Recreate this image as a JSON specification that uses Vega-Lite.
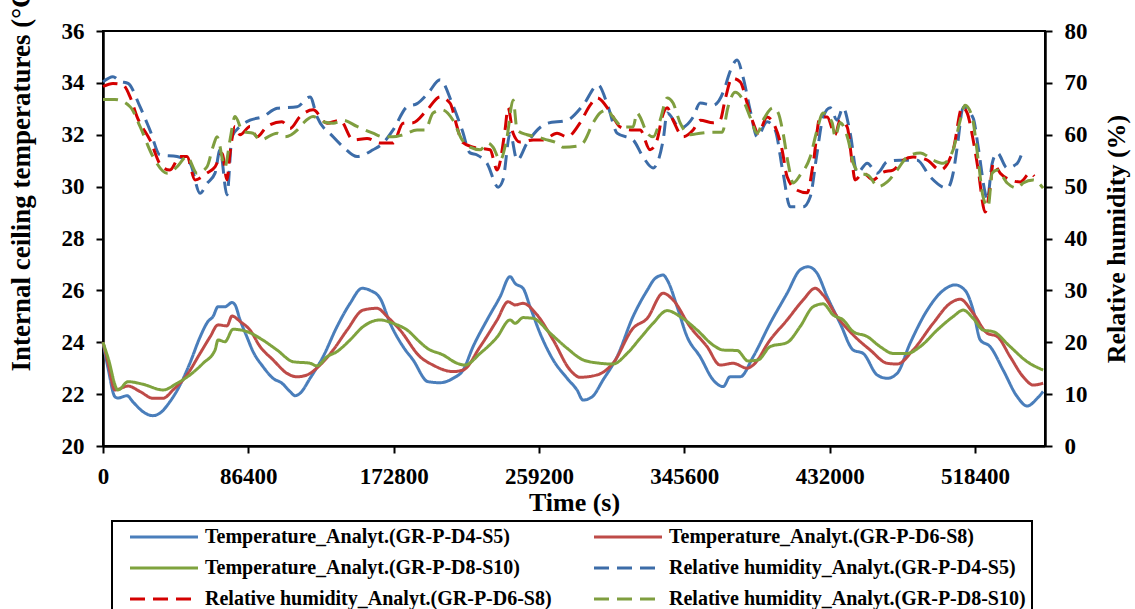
{
"$schema": "https://vega.github.io/schema/vega-lite/v6.json",
"width": 942,
"height": 415,
"autosize": {"type": "none"},
"padding": {"left": 103, "top": 31, "right": 90, "bottom": 163},
"background": "white",
"config": {
  "font": "Liberation Serif",
  "view": {"stroke": "black", "strokeWidth": 2},
  "axis": {"labelFont": "Liberation Serif", "labelFontWeight": "bold", "labelFontSize": 23, "labelColor": "black", "titleFont": "Liberation Serif", "titleFontWeight": "bold", "titleFontSize": 26, "titleColor": "black", "domainColor": "black", "domainWidth": 2.5, "tickColor": "black", "tickWidth": 2, "tickSize": 7, "grid": false, "labelPadding": 12, "labelOverlap": false},
  "legend": {"orient": "none", "legendX": 9, "legendY": 490, "columns": 2, "labelFont": "Liberation Serif", "labelFontWeight": "bold", "labelFontSize": 20, "labelColor": "black", "labelLimit": 600, "symbolType": "M-8,0H8", "symbolSize": 72.25, "symbolStrokeWidth": 3, "symbolOffset": 36, "labelOffset": 31, "padding": 6, "rowPadding": 11, "columnPadding": 30, "strokeColor": "black", "strokeWidth": 2}
},
"datasets": {
"d": [
{"s":"TA","t":0,"v":24.0},{"s":"TA","t":3000,"v":23.0},{"s":"TA","t":7100,"v":21.9},{"s":"TA","t":8900,"v":21.85},{"s":"TA","t":14300,"v":21.94},{"s":"TA","t":17800,"v":21.7},{"s":"TA","t":23800,"v":21.32},{"s":"TA","t":29700,"v":21.17},{"s":"TA","t":33900,"v":21.27},{"s":"TA","t":39800,"v":21.71},{"s":"TA","t":45800,"v":22.35},{"s":"TA","t":51700,"v":23.2},{"s":"TA","t":57700,"v":24.2},{"s":"TA","t":62400,"v":24.8},{"s":"TA","t":65400,"v":24.99},{"s":"TA","t":68400,"v":25.37},{"s":"TA","t":72500,"v":25.37},{"s":"TA","t":76700,"v":25.53},{"s":"TA","t":78500,"v":25.44},{"s":"TA","t":81500,"v":24.86},{"s":"TA","t":85600,"v":24.2},{"s":"TA","t":89200,"v":23.64},{"s":"TA","t":95100,"v":23.06},{"s":"TA","t":101100,"v":22.61},{"s":"TA","t":106400,"v":22.42},{"s":"TA","t":111200,"v":22.1},{"s":"TA","t":114200,"v":21.94},{"s":"TA","t":117100,"v":22.03},{"s":"TA","t":123100,"v":22.61},{"s":"TA","t":130800,"v":23.44},{"s":"TA","t":139100,"v":24.6},{"s":"TA","t":146900,"v":25.5},{"s":"TA","t":154000,"v":26.08},{"s":"TA","t":158800,"v":26.0},{"s":"TA","t":164700,"v":25.7},{"s":"TA","t":170700,"v":24.73},{"s":"TA","t":178400,"v":23.83},{"s":"TA","t":184300,"v":23.32},{"s":"TA","t":193200,"v":22.48},{"s":"TA","t":200400,"v":22.44},{"s":"TA","t":208100,"v":22.61},{"s":"TA","t":214100,"v":22.93},{"s":"TA","t":220000,"v":23.83},{"s":"TA","t":228300,"v":24.86},{"s":"TA","t":236100,"v":25.76},{"s":"TA","t":242000,"v":26.53},{"s":"TA","t":245000,"v":26.27},{"s":"TA","t":249700,"v":26.08},{"s":"TA","t":253900,"v":25.37},{"s":"TA","t":259800,"v":24.35},{"s":"TA","t":267600,"v":23.32},{"s":"TA","t":275900,"v":22.61},{"s":"TA","t":281800,"v":22.16},{"s":"TA","t":285400,"v":21.77},{"s":"TA","t":290800,"v":21.9},{"s":"TA","t":297300,"v":22.55},{"s":"TA","t":305600,"v":23.44},{"s":"TA","t":315100,"v":24.99},{"s":"TA","t":323500,"v":26.0},{"s":"TA","t":328200,"v":26.46},{"s":"TA","t":333000,"v":26.59},{"s":"TA","t":335900,"v":26.34},{"s":"TA","t":341300,"v":25.37},{"s":"TA","t":347200,"v":24.22},{"s":"TA","t":355000,"v":23.44},{"s":"TA","t":362700,"v":22.55},{"s":"TA","t":368700,"v":22.29},{"s":"TA","t":372800,"v":22.67},{"s":"TA","t":378800,"v":22.67},{"s":"TA","t":386500,"v":23.44},{"s":"TA","t":396600,"v":24.73},{"s":"TA","t":406700,"v":25.89},{"s":"TA","t":414400,"v":26.79},{"s":"TA","t":419200,"v":26.91},{"s":"TA","t":424500,"v":26.66},{"s":"TA","t":430500,"v":25.76},{"s":"TA","t":438200,"v":24.73},{"s":"TA","t":446000,"v":23.7},{"s":"TA","t":451900,"v":23.57},{"s":"TA","t":460200,"v":22.74},{"s":"TA","t":466200,"v":22.61},{"s":"TA","t":472100,"v":22.8},{"s":"TA","t":479800,"v":23.96},{"s":"TA","t":490000,"v":25.24},{"s":"TA","t":499500,"v":26.0},{"s":"TA","t":506600,"v":26.21},{"s":"TA","t":512500,"v":26.0},{"s":"TA","t":517300,"v":25.24},{"s":"TA","t":521500,"v":24.09},{"s":"TA","t":527400,"v":23.83},{"s":"TA","t":535100,"v":22.93},{"s":"TA","t":543500,"v":21.9},{"s":"TA","t":549400,"v":21.54},{"s":"TA","t":555400,"v":21.84},{"s":"TA","t":558900,"v":22.1},
{"s":"TB","t":0,"v":24.0},{"s":"TB","t":3000,"v":23.2},{"s":"TB","t":7100,"v":22.16},{"s":"TB","t":14900,"v":22.31},{"s":"TB","t":22000,"v":22.1},{"s":"TB","t":29700,"v":21.84},{"s":"TB","t":35700,"v":21.84},{"s":"TB","t":41600,"v":22.16},{"s":"TB","t":49900,"v":22.74},{"s":"TB","t":57700,"v":23.57},{"s":"TB","t":63600,"v":24.2},{"s":"TB","t":68400,"v":24.67},{"s":"TB","t":73700,"v":24.63},{"s":"TB","t":76700,"v":25.01},{"s":"TB","t":81500,"v":24.8},{"s":"TB","t":87400,"v":24.47},{"s":"TB","t":93400,"v":23.83},{"s":"TB","t":101100,"v":23.32},{"s":"TB","t":109400,"v":22.8},{"s":"TB","t":115400,"v":22.67},{"s":"TB","t":121300,"v":22.74},{"s":"TB","t":129000,"v":23.12},{"s":"TB","t":136800,"v":23.7},{"s":"TB","t":145100,"v":24.47},{"s":"TB","t":154600,"v":25.24},{"s":"TB","t":162900,"v":25.31},{"s":"TB","t":168900,"v":24.99},{"s":"TB","t":176600,"v":24.47},{"s":"TB","t":188500,"v":23.44},{"s":"TB","t":196200,"v":23.12},{"s":"TB","t":208100,"v":22.87},{"s":"TB","t":214100,"v":22.93},{"s":"TB","t":224200,"v":23.83},{"s":"TB","t":234300,"v":24.86},{"s":"TB","t":240800,"v":25.56},{"s":"TB","t":245000,"v":25.44},{"s":"TB","t":249700,"v":25.5},{"s":"TB","t":258100,"v":25.05},{"s":"TB","t":267600,"v":24.09},{"s":"TB","t":277700,"v":22.93},{"s":"TB","t":283600,"v":22.65},{"s":"TB","t":293700,"v":22.74},{"s":"TB","t":303200,"v":23.19},{"s":"TB","t":315100,"v":24.54},{"s":"TB","t":323500,"v":24.92},{"s":"TB","t":333000,"v":25.89},{"s":"TB","t":338900,"v":25.63},{"s":"TB","t":349000,"v":24.6},{"s":"TB","t":359100,"v":23.83},{"s":"TB","t":366900,"v":23.12},{"s":"TB","t":374600,"v":23.19},{"s":"TB","t":382900,"v":23.0},{"s":"TB","t":386500,"v":23.12},{"s":"TB","t":396600,"v":24.09},{"s":"TB","t":406700,"v":24.86},{"s":"TB","t":416200,"v":25.63},{"s":"TB","t":423400,"v":26.08},{"s":"TB","t":428100,"v":25.82},{"s":"TB","t":436400,"v":24.99},{"s":"TB","t":446000,"v":24.28},{"s":"TB","t":456100,"v":23.7},{"s":"TB","t":466200,"v":23.19},{"s":"TB","t":472100,"v":23.16},{"s":"TB","t":481600,"v":23.7},{"s":"TB","t":493500,"v":24.73},{"s":"TB","t":503600,"v":25.5},{"s":"TB","t":509600,"v":25.66},{"s":"TB","t":517300,"v":25.12},{"s":"TB","t":525600,"v":24.35},{"s":"TB","t":531600,"v":24.22},{"s":"TB","t":539300,"v":23.44},{"s":"TB","t":547000,"v":22.67},{"s":"TB","t":553000,"v":22.35},{"s":"TB","t":558900,"v":22.42},
{"s":"TC","t":0,"v":24.0},{"s":"TC","t":3000,"v":23.4},{"s":"TC","t":8900,"v":22.16},{"s":"TC","t":14900,"v":22.48},{"s":"TC","t":23800,"v":22.38},{"s":"TC","t":35700,"v":22.16},{"s":"TC","t":44000,"v":22.42},{"s":"TC","t":51700,"v":22.74},{"s":"TC","t":59500,"v":23.19},{"s":"TC","t":66600,"v":23.7},{"s":"TC","t":68400,"v":24.09},{"s":"TC","t":72500,"v":24.02},{"s":"TC","t":77300,"v":24.5},{"s":"TC","t":85600,"v":24.41},{"s":"TC","t":93400,"v":24.15},{"s":"TC","t":103500,"v":23.7},{"s":"TC","t":113000,"v":23.25},{"s":"TC","t":123100,"v":23.19},{"s":"TC","t":127200,"v":23.09},{"s":"TC","t":133200,"v":23.44},{"s":"TC","t":139100,"v":23.64},{"s":"TC","t":146900,"v":24.09},{"s":"TC","t":154600,"v":24.6},{"s":"TC","t":164700,"v":24.86},{"s":"TC","t":172400,"v":24.73},{"s":"TC","t":180800,"v":24.47},{"s":"TC","t":188500,"v":24.0},{"s":"TC","t":192700,"v":23.77},{"s":"TC","t":202200,"v":23.51},{"s":"TC","t":210500,"v":23.19},{"s":"TC","t":215200,"v":23.12},{"s":"TC","t":224200,"v":23.57},{"s":"TC","t":234300,"v":24.2},{"s":"TC","t":242000,"v":24.86},{"s":"TC","t":245000,"v":24.73},{"s":"TC","t":249700,"v":24.95},{"s":"TC","t":255700,"v":24.92},{"s":"TC","t":265800,"v":24.35},{"s":"TC","t":275900,"v":23.77},{"s":"TC","t":285400,"v":23.32},{"s":"TC","t":295500,"v":23.19},{"s":"TC","t":303200,"v":23.16},{"s":"TC","t":311600,"v":23.57},{"s":"TC","t":319300,"v":24.15},{"s":"TC","t":327000,"v":24.73},{"s":"TC","t":335400,"v":25.22},{"s":"TC","t":343100,"v":24.99},{"s":"TC","t":353200,"v":24.47},{"s":"TC","t":362700,"v":23.89},{"s":"TC","t":368700,"v":23.7},{"s":"TC","t":377000,"v":23.68},{"s":"TC","t":383500,"v":23.28},{"s":"TC","t":389500,"v":23.32},{"s":"TC","t":396600,"v":23.83},{"s":"TC","t":406700,"v":23.99},{"s":"TC","t":414400,"v":24.6},{"s":"TC","t":422200,"v":25.37},{"s":"TC","t":428100,"v":25.48},{"s":"TC","t":434100,"v":25.05},{"s":"TC","t":440000,"v":24.86},{"s":"TC","t":446000,"v":24.41},{"s":"TC","t":454300,"v":24.22},{"s":"TC","t":462000,"v":23.83},{"s":"TC","t":469700,"v":23.57},{"s":"TC","t":478100,"v":23.57},{"s":"TC","t":485800,"v":23.83},{"s":"TC","t":495900,"v":24.47},{"s":"TC","t":505400,"v":24.99},{"s":"TC","t":511400,"v":25.24},{"s":"TC","t":517300,"v":24.92},{"s":"TC","t":523200,"v":24.47},{"s":"TC","t":529200,"v":24.41},{"s":"TC","t":539300,"v":23.83},{"s":"TC","t":549400,"v":23.25},{"s":"TC","t":558900,"v":22.93},
{"s":"HA","t":0,"v":70.2},{"s":"HA","t":5900,"v":71.2},{"s":"HA","t":10100,"v":70.3},{"s":"HA","t":14900,"v":69.9},{"s":"HA","t":22000,"v":65.4},{"s":"HA","t":27900,"v":60.9},{"s":"HA","t":33900,"v":56.1},{"s":"HA","t":44000,"v":55.8},{"s":"HA","t":51700,"v":54.5},{"s":"HA","t":57700,"v":48.7},{"s":"HA","t":61800,"v":50.6},{"s":"HA","t":66600,"v":52.6},{"s":"HA","t":69600,"v":57.1},{"s":"HA","t":73700,"v":48.4},{"s":"HA","t":76700,"v":59.6},{"s":"HA","t":81500,"v":61.6},{"s":"HA","t":87400,"v":62.8},{"s":"HA","t":95100,"v":63.5},{"s":"HA","t":103500,"v":65.1},{"s":"HA","t":115400,"v":65.4},{"s":"HA","t":123100,"v":67.3},{"s":"HA","t":127200,"v":63.5},{"s":"HA","t":136800,"v":59.6},{"s":"HA","t":142700,"v":57.7},{"s":"HA","t":151000,"v":55.8},{"s":"HA","t":160500,"v":57.1},{"s":"HA","t":166500,"v":58.4},{"s":"HA","t":172400,"v":60.9},{"s":"HA","t":180800,"v":65.4},{"s":"HA","t":186700,"v":66.0},{"s":"HA","t":193200,"v":68.0},{"s":"HA","t":200400,"v":70.6},{"s":"HA","t":207500,"v":66.1},{"s":"HA","t":213500,"v":60.9},{"s":"HA","t":218200,"v":56.5},{"s":"HA","t":222400,"v":56.1},{"s":"HA","t":228300,"v":54.5},{"s":"HA","t":234900,"v":49.9},{"s":"HA","t":237800,"v":51.3},{"s":"HA","t":242000,"v":60.3},{"s":"HA","t":246200,"v":55.1},{"s":"HA","t":252100,"v":58.4},{"s":"HA","t":264000,"v":62.2},{"s":"HA","t":275900,"v":62.8},{"s":"HA","t":285400,"v":65.7},{"s":"HA","t":294300,"v":69.6},{"s":"HA","t":300300,"v":65.4},{"s":"HA","t":305600,"v":60.3},{"s":"HA","t":315100,"v":59.0},{"s":"HA","t":321100,"v":55.7},{"s":"HA","t":327000,"v":53.6},{"s":"HA","t":333000,"v":59.0},{"s":"HA","t":335400,"v":64.2},{"s":"HA","t":343100,"v":61.3},{"s":"HA","t":350800,"v":63.4},{"s":"HA","t":355000,"v":66.1},{"s":"HA","t":362700,"v":65.7},{"s":"HA","t":369800,"v":69.2},{"s":"HA","t":371600,"v":71.1},{"s":"HA","t":377000,"v":74.4},{"s":"HA","t":380500,"v":71.1},{"s":"HA","t":384700,"v":64.8},{"s":"HA","t":388900,"v":59.6},{"s":"HA","t":394800,"v":62.5},{"s":"HA","t":399600,"v":60.9},{"s":"HA","t":404300,"v":52.6},{"s":"HA","t":408500,"v":46.1},{"s":"HA","t":416200,"v":46.1},{"s":"HA","t":420400,"v":48.0},{"s":"HA","t":424500,"v":56.5},{"s":"HA","t":428100,"v":63.4},{"s":"HA","t":432300,"v":65.2},{"s":"HA","t":436400,"v":62.8},{"s":"HA","t":440000,"v":65.2},{"s":"HA","t":444200,"v":60.3},{"s":"HA","t":448300,"v":52.6},{"s":"HA","t":454300,"v":54.5},{"s":"HA","t":460200,"v":52.6},{"s":"HA","t":466200,"v":54.8},{"s":"HA","t":473900,"v":55.1},{"s":"HA","t":484000,"v":55.1},{"s":"HA","t":491700,"v":51.9},{"s":"HA","t":501800,"v":49.7},{"s":"HA","t":505400,"v":52.6},{"s":"HA","t":507800,"v":57.6},{"s":"HA","t":511400,"v":65.3},{"s":"HA","t":517300,"v":63.2},{"s":"HA","t":520300,"v":57.6},{"s":"HA","t":524400,"v":48.8},{"s":"HA","t":525600,"v":47.4},{"s":"HA","t":528600,"v":54.5},{"s":"HA","t":531600,"v":56.5},{"s":"HA","t":537500,"v":53.6},{"s":"HA","t":543500,"v":54.5},{"s":"HA","t":545800,"v":56.0},
{"s":"HB","t":0,"v":69.3},{"s":"HB","t":5900,"v":69.9},{"s":"HB","t":11900,"v":69.6},{"s":"HB","t":16100,"v":67.3},{"s":"HB","t":20200,"v":63.5},{"s":"HB","t":27900,"v":59.0},{"s":"HB","t":35100,"v":53.8},{"s":"HB","t":39800,"v":53.2},{"s":"HB","t":45800,"v":55.8},{"s":"HB","t":49900,"v":55.8},{"s":"HB","t":54700,"v":51.3},{"s":"HB","t":61800,"v":52.6},{"s":"HB","t":66600,"v":53.8},{"s":"HB","t":70800,"v":56.4},{"s":"HB","t":73700,"v":51.3},{"s":"HB","t":75500,"v":56.4},{"s":"HB","t":78500,"v":61.6},{"s":"HB","t":81500,"v":60.0},{"s":"HB","t":87400,"v":61.6},{"s":"HB","t":91600,"v":59.6},{"s":"HB","t":97500,"v":61.6},{"s":"HB","t":106400,"v":62.5},{"s":"HB","t":111200,"v":61.2},{"s":"HB","t":117100,"v":63.5},{"s":"HB","t":124900,"v":64.8},{"s":"HB","t":133200,"v":62.2},{"s":"HB","t":140900,"v":62.8},{"s":"HB","t":148700,"v":59.0},{"s":"HB","t":157000,"v":59.3},{"s":"HB","t":164700,"v":58.4},{"s":"HB","t":172400,"v":58.4},{"s":"HB","t":178400,"v":62.2},{"s":"HB","t":184300,"v":62.3},{"s":"HB","t":192700,"v":64.8},{"s":"HB","t":200400,"v":67.3},{"s":"HB","t":206300,"v":66.1},{"s":"HB","t":210500,"v":61.5},{"s":"HB","t":213500,"v":58.6},{"s":"HB","t":220000,"v":57.6},{"s":"HB","t":230100,"v":57.1},{"s":"HB","t":234300,"v":53.2},{"s":"HB","t":239000,"v":60.9},{"s":"HB","t":240800,"v":65.2},{"s":"HB","t":243800,"v":60.3},{"s":"HB","t":247900,"v":58.6},{"s":"HB","t":255700,"v":59.0},{"s":"HB","t":261600,"v":59.0},{"s":"HB","t":269900,"v":60.3},{"s":"HB","t":275900,"v":59.6},{"s":"HB","t":283600,"v":62.3},{"s":"HB","t":289600,"v":65.7},{"s":"HB","t":293700,"v":67.1},{"s":"HB","t":301500,"v":64.4},{"s":"HB","t":307400,"v":61.5},{"s":"HB","t":315100,"v":60.9},{"s":"HB","t":319300,"v":60.9},{"s":"HB","t":325200,"v":57.1},{"s":"HB","t":329400,"v":59.0},{"s":"HB","t":332400,"v":63.4},{"s":"HB","t":335400,"v":65.2},{"s":"HB","t":338900,"v":62.8},{"s":"HB","t":344900,"v":59.6},{"s":"HB","t":350800,"v":60.9},{"s":"HB","t":355000,"v":62.8},{"s":"HB","t":362700,"v":62.3},{"s":"HB","t":366900,"v":62.8},{"s":"HB","t":369800,"v":66.7},{"s":"HB","t":374000,"v":70.9},{"s":"HB","t":378800,"v":70.2},{"s":"HB","t":382900,"v":66.1},{"s":"HB","t":386500,"v":62.3},{"s":"HB","t":389500,"v":60.3},{"s":"HB","t":394800,"v":63.4},{"s":"HB","t":399600,"v":61.5},{"s":"HB","t":403700,"v":57.1},{"s":"HB","t":406700,"v":51.9},{"s":"HB","t":412700,"v":49.3},{"s":"HB","t":418600,"v":48.8},{"s":"HB","t":422200,"v":54.5},{"s":"HB","t":426300,"v":63.4},{"s":"HB","t":430500,"v":63.4},{"s":"HB","t":435200,"v":60.0},{"s":"HB","t":438200,"v":62.8},{"s":"HB","t":442400,"v":61.5},{"s":"HB","t":445400,"v":54.5},{"s":"HB","t":447100,"v":51.3},{"s":"HB","t":451900,"v":52.6},{"s":"HB","t":457800,"v":51.3},{"s":"HB","t":463800,"v":52.8},{"s":"HB","t":469700,"v":53.2},{"s":"HB","t":475700,"v":55.1},{"s":"HB","t":481600,"v":55.7},{"s":"HB","t":490000,"v":55.1},{"s":"HB","t":497700,"v":53.2},{"s":"HB","t":505400,"v":57.1},{"s":"HB","t":510800,"v":65.3},{"s":"HB","t":513700,"v":64.2},{"s":"HB","t":517300,"v":59.0},{"s":"HB","t":520300,"v":53.2},{"s":"HB","t":524400,"v":45.1},{"s":"HB","t":527400,"v":50.0},{"s":"HB","t":529200,"v":54.5},{"s":"HB","t":533400,"v":52.6},{"s":"HB","t":539300,"v":51.3},{"s":"HB","t":545200,"v":50.9},{"s":"HB","t":551200,"v":52.6},{"s":"HB","t":553600,"v":52.0},
{"s":"HC","t":0,"v":66.8},{"s":"HC","t":7100,"v":66.8},{"s":"HC","t":16100,"v":65.4},{"s":"HC","t":22000,"v":61.6},{"s":"HC","t":29700,"v":55.8},{"s":"HC","t":38100,"v":52.6},{"s":"HC","t":44000,"v":53.8},{"s":"HC","t":49900,"v":55.8},{"s":"HC","t":55900,"v":52.6},{"s":"HC","t":61800,"v":53.8},{"s":"HC","t":65400,"v":57.7},{"s":"HC","t":67800,"v":59.6},{"s":"HC","t":72500,"v":53.8},{"s":"HC","t":75500,"v":59.0},{"s":"HC","t":78500,"v":63.5},{"s":"HC","t":83200,"v":60.6},{"s":"HC","t":89200,"v":60.3},{"s":"HC","t":93400,"v":59.0},{"s":"HC","t":103500,"v":60.3},{"s":"HC","t":108200,"v":59.6},{"s":"HC","t":115400,"v":60.9},{"s":"HC","t":118900,"v":62.2},{"s":"HC","t":124900,"v":63.5},{"s":"HC","t":130800,"v":62.5},{"s":"HC","t":136800,"v":62.2},{"s":"HC","t":142700,"v":62.8},{"s":"HC","t":151000,"v":61.6},{"s":"HC","t":160500,"v":60.3},{"s":"HC","t":166500,"v":59.6},{"s":"HC","t":172400,"v":59.6},{"s":"HC","t":178400,"v":60.0},{"s":"HC","t":186700,"v":60.9},{"s":"HC","t":191500,"v":60.9},{"s":"HC","t":196200,"v":64.2},{"s":"HC","t":201600,"v":64.8},{"s":"HC","t":208100,"v":62.8},{"s":"HC","t":213500,"v":59.0},{"s":"HC","t":218200,"v":57.6},{"s":"HC","t":224200,"v":57.1},{"s":"HC","t":228900,"v":58.4},{"s":"HC","t":231900,"v":57.6},{"s":"HC","t":236100,"v":55.1},{"s":"HC","t":240200,"v":59.6},{"s":"HC","t":243800,"v":66.7},{"s":"HC","t":246200,"v":60.9},{"s":"HC","t":252100,"v":60.0},{"s":"HC","t":258100,"v":59.6},{"s":"HC","t":264000,"v":59.0},{"s":"HC","t":269900,"v":58.4},{"s":"HC","t":273500,"v":57.6},{"s":"HC","t":281800,"v":57.8},{"s":"HC","t":285400,"v":58.4},{"s":"HC","t":291400,"v":62.3},{"s":"HC","t":295500,"v":64.2},{"s":"HC","t":299700,"v":64.8},{"s":"HC","t":303200,"v":63.4},{"s":"HC","t":309200,"v":61.5},{"s":"HC","t":315100,"v":61.5},{"s":"HC","t":317500,"v":64.2},{"s":"HC","t":319300,"v":63.4},{"s":"HC","t":323500,"v":60.3},{"s":"HC","t":327000,"v":59.6},{"s":"HC","t":331200,"v":62.8},{"s":"HC","t":335400,"v":67.1},{"s":"HC","t":338900,"v":66.1},{"s":"HC","t":343100,"v":62.3},{"s":"HC","t":349000,"v":60.0},{"s":"HC","t":355000,"v":60.3},{"s":"HC","t":362700,"v":60.5},{"s":"HC","t":368100,"v":60.5},{"s":"HC","t":371600,"v":65.4},{"s":"HC","t":375800,"v":68.2},{"s":"HC","t":380500,"v":66.7},{"s":"HC","t":384700,"v":63.4},{"s":"HC","t":388900,"v":60.3},{"s":"HC","t":392400,"v":62.8},{"s":"HC","t":398400,"v":65.2},{"s":"HC","t":401400,"v":64.2},{"s":"HC","t":404300,"v":60.3},{"s":"HC","t":407300,"v":54.5},{"s":"HC","t":410300,"v":50.7},{"s":"HC","t":414400,"v":52.2},{"s":"HC","t":420400,"v":55.7},{"s":"HC","t":424500,"v":60.9},{"s":"HC","t":428100,"v":64.2},{"s":"HC","t":433500,"v":62.3},{"s":"HC","t":435200,"v":59.6},{"s":"HC","t":438200,"v":62.3},{"s":"HC","t":443000,"v":59.0},{"s":"HC","t":446000,"v":54.5},{"s":"HC","t":450100,"v":52.6},{"s":"HC","t":454900,"v":52.2},{"s":"HC","t":460800,"v":50.0},{"s":"HC","t":466200,"v":50.9},{"s":"HC","t":472100,"v":53.2},{"s":"HC","t":478100,"v":55.7},{"s":"HC","t":485800,"v":56.5},{"s":"HC","t":493500,"v":55.1},{"s":"HC","t":499500,"v":54.5},{"s":"HC","t":505400,"v":57.1},{"s":"HC","t":509600,"v":62.8},{"s":"HC","t":512500,"v":65.7},{"s":"HC","t":516700,"v":63.4},{"s":"HC","t":520300,"v":55.1},{"s":"HC","t":523200,"v":48.0},{"s":"HC","t":526200,"v":46.1},{"s":"HC","t":528600,"v":52.6},{"s":"HC","t":531600,"v":53.2},{"s":"HC","t":537500,"v":50.7},{"s":"HC","t":543500,"v":49.7},{"s":"HC","t":547000,"v":50.7},{"s":"HC","t":553000,"v":51.3},{"s":"HC","t":558900,"v":49.7}
]
},
"data": {"name": "d"},
"encoding": {
  "x": {"field": "t", "type": "quantitative", "scale": {"domain": [0, 560000], "nice": false, "zero": false},
        "axis": {"values": [0, 86400, 172800, 259200, 345600, 432000, 518400], "format": "d", "title": "Time (s)", "labelFlush": false, "titlePadding": 1}}
},
"layer": [
  {
    "transform": [{"filter": {"field": "s", "oneOf": ["TA", "TB", "TC"]}}],
    "mark": {"type": "line", "interpolate": "monotone", "strokeWidth": 3},
    "encoding": {
      "y": {"field": "v", "type": "quantitative", "scale": {"domain": [20, 36], "nice": false, "zero": false},
            "axis": {"orient": "left", "values": [20, 22, 24, 26, 28, 30, 32, 34, 36], "title": "Internal ceiling temperatures (°C)", "titleFontSize": 27, "titleAngle": 270, "titleAlign": "left", "titleBaseline": "alphabetic", "titleX": -74, "titleY": 340}},
      "color": {"field": "s", "type": "nominal", "sort": null,
                "scale": {"domain": ["TA", "TC", "HB", "TB", "HA", "HC"], "range": ["#4A7EBB", "#7FA33E", "#D40000", "#BE4B48", "#3C6CA8", "#7F9E3F"]},
                "legend": {"title": null, "labelExpr": "datum.label == 'TA' ? 'Temperature_Analyt.(GR-P-D4-S5)' : datum.label == 'TB' ? 'Temperature_Analyt.(GR-P-D6-S8)' : datum.label == 'TC' ? 'Temperature_Analyt.(GR-P-D8-S10)' : datum.label == 'HA' ? 'Relative humidity_Analyt.(GR-P-D4-S5)' : datum.label == 'HB' ? 'Relative humidity_Analyt.(GR-P-D6-S8)' : 'Relative humidity_Analyt.(GR-P-D8-S10)'"}},
      "strokeDash": {"field": "s", "type": "nominal", "sort": null,
                "scale": {"domain": ["TA", "TC", "HB", "TB", "HA", "HC"], "range": [[1, 0], [1, 0], [15, 8], [1, 0], [15, 8], [15, 8]]},
                "legend": {"title": null, "labelExpr": "datum.label == 'TA' ? 'Temperature_Analyt.(GR-P-D4-S5)' : datum.label == 'TB' ? 'Temperature_Analyt.(GR-P-D6-S8)' : datum.label == 'TC' ? 'Temperature_Analyt.(GR-P-D8-S10)' : datum.label == 'HA' ? 'Relative humidity_Analyt.(GR-P-D4-S5)' : datum.label == 'HB' ? 'Relative humidity_Analyt.(GR-P-D6-S8)' : 'Relative humidity_Analyt.(GR-P-D8-S10)'"}}
    }
  },
  {
    "transform": [{"filter": {"field": "s", "oneOf": ["HA", "HB", "HC"]}}],
    "mark": {"type": "line", "interpolate": "monotone", "strokeWidth": 3},
    "encoding": {
      "y": {"field": "v", "type": "quantitative", "scale": {"domain": [0, 80], "nice": false, "zero": false},
            "axis": {"orient": "right", "values": [0, 10, 20, 30, 40, 50, 60, 70, 80], "title": "Relative humidity (%)", "titleAngle": 270, "titleBaseline": "alphabetic", "titleX": 79}},
      "color": {"field": "s", "type": "nominal", "sort": null,
                "scale": {"domain": ["TA", "TC", "HB", "TB", "HA", "HC"], "range": ["#4A7EBB", "#7FA33E", "#D40000", "#BE4B48", "#3C6CA8", "#7F9E3F"]},
                "legend": {"title": null, "labelExpr": "datum.label == 'TA' ? 'Temperature_Analyt.(GR-P-D4-S5)' : datum.label == 'TB' ? 'Temperature_Analyt.(GR-P-D6-S8)' : datum.label == 'TC' ? 'Temperature_Analyt.(GR-P-D8-S10)' : datum.label == 'HA' ? 'Relative humidity_Analyt.(GR-P-D4-S5)' : datum.label == 'HB' ? 'Relative humidity_Analyt.(GR-P-D6-S8)' : 'Relative humidity_Analyt.(GR-P-D8-S10)'"}},
      "strokeDash": {"field": "s", "type": "nominal", "sort": null,
                "scale": {"domain": ["TA", "TC", "HB", "TB", "HA", "HC"], "range": [[1, 0], [1, 0], [15, 8], [1, 0], [15, 8], [15, 8]]},
                "legend": {"title": null, "labelExpr": "datum.label == 'TA' ? 'Temperature_Analyt.(GR-P-D4-S5)' : datum.label == 'TB' ? 'Temperature_Analyt.(GR-P-D6-S8)' : datum.label == 'TC' ? 'Temperature_Analyt.(GR-P-D8-S10)' : datum.label == 'HA' ? 'Relative humidity_Analyt.(GR-P-D4-S5)' : datum.label == 'HB' ? 'Relative humidity_Analyt.(GR-P-D6-S8)' : 'Relative humidity_Analyt.(GR-P-D8-S10)'"}}
    }
  }
],
"resolve": {"scale": {"y": "independent"}}
}
